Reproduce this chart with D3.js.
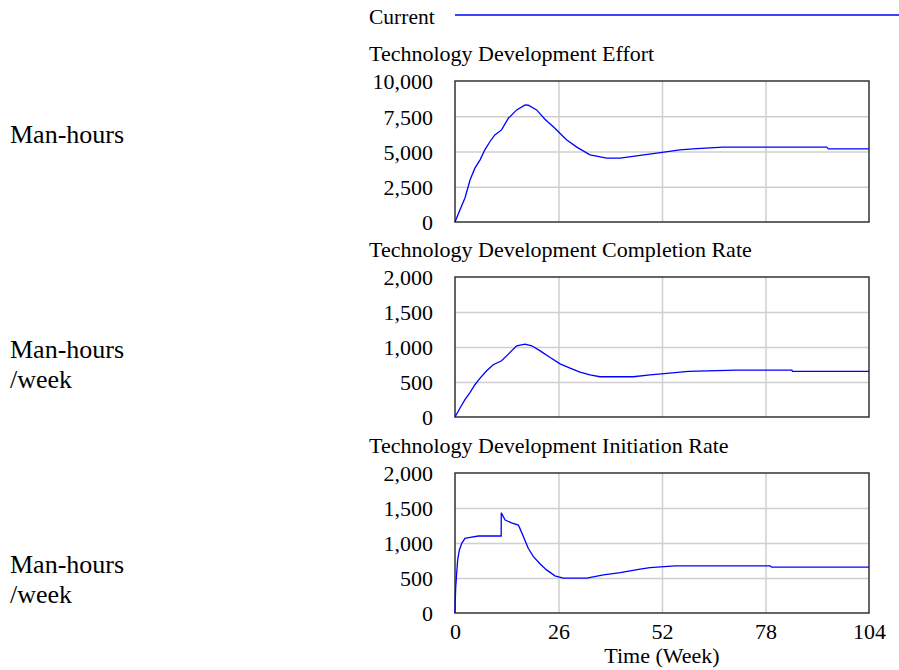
<!DOCTYPE html>
<html>
<head>
<meta charset="utf-8">
<script src="https://cdn.jsdelivr.net/npm/d3@7"></script>
<style>
  html, body { margin: 0; padding: 0; background: #fff; }
  svg { display: block; }
  text { font-family: "Liberation Serif", "Times New Roman", serif; fill: #000; }
</style>
</head>
<body>
<svg id="chart" width="899" height="670"></svg>
<script>
// ---- Data ----
const xTicks = [0, 26, 52, 78, 104];
const xLabel = "Time (Week)";
const seriesName = "Current";

const titles = ["Technology Development Effort", "Technology Development Completion Rate", "Technology Development Initiation Rate"];
const unitLabels = [["Man-hours"], ["Man-hours", "/week"], ["Man-hours", "/week"]];
const yMaxes = [10000, 2000, 2000];
const yTicks1 = [0, 2500, 5000, 7500, 10000];
const yTicks2 = [0, 500, 1000, 1500, 2000];
const yTicks3 = [0, 500, 1000, 1500, 2000];

const effortT = [0, 1.26, 2.5, 3.8, 5, 6.3, 7.5, 8.8, 10, 11.7, 13.4, 15.5, 17.6, 18.4, 20.5, 22.6, 25.1, 28, 30.6, 33.9, 38.1, 41.5, 45.6, 50.7, 56.5, 60.7, 67.4, 93.4, 93.8, 104];
const effortV = [0, 870, 1700, 3000, 3820, 4410, 5120, 5710, 6180, 6530, 7360, 7950, 8300, 8280, 7950, 7290, 6650, 5830, 5310, 4760, 4530, 4530, 4690, 4880, 5120, 5210, 5310, 5310, 5190, 5190];

const compT = [0, 1.26, 2.5, 3.8, 5, 6.3, 7.96, 9.6, 11.7, 13.4, 15.5, 17.6, 19.3, 21.4, 23.9, 26.4, 28.9, 31.4, 33.9, 36.4, 44.8, 49, 53.2, 58.6, 70.8, 84.6, 84.8, 104];
const compV = [0, 128, 247, 352, 461, 556, 660, 746, 803, 898, 1017, 1040, 1017, 945, 850, 760, 698, 641, 603, 575, 575, 603, 622, 651, 670, 670, 651, 651];

const initT = [0, 0.05, 0.17, 0.42, 0.67, 1.1, 1.7, 2.5, 3.8, 5.9, 11.6, 11.62, 12.6, 14.2, 15.9, 16.3, 17.2, 18.4, 19.7, 21.4, 23, 25.1, 27.2, 33.1, 37.3, 41.5, 46.5, 49, 55.3, 79.1, 79.6, 104];
const initV = [0, 150, 355, 569, 758, 900, 995, 1066, 1080, 1100, 1100, 1431, 1327, 1289, 1256, 1209, 1090, 924, 806, 701, 616, 531, 498, 498, 545, 578, 626, 649, 673, 673, 654, 654];

const seriesT = [effortT, compT, initT];
const seriesV = [effortV, compV, initV];
const yTickSets = [yTicks1, yTicks2, yTicks3];

// ---- Layout ----
const plotLeft = 455, plotRight = 869;
const panels = [{top: 81, bottom: 222}, {top: 277, bottom: 417}, {top: 473, bottom: 613}];
const unitBaselines = [[143], [358, 388], [573, 603]];

const svg = d3.select("#chart");
const fmt = d3.format(",");

const x = d3.scaleLinear().domain([0, 104]).range([plotLeft, plotRight]);

// Legend
svg.append("text").attr("x", 369).attr("y", 24).attr("font-size", 21.5).text(seriesName);
svg.append("line").attr("x1", 455).attr("x2", 899).attr("y1", 15).attr("y2", 15)
  .attr("stroke", "#0000ff").attr("stroke-width", 1.5);

panels.forEach((p, i) => {
  const y = d3.scaleLinear().domain([0, yMaxes[i]]).range([p.bottom, p.top]);
  const g = svg.append("g");

  // title
  g.append("text").attr("x", 369).attr("y", p.top - 20).attr("font-size", 22).text(titles[i]);

  // unit labels
  unitLabels[i].forEach((s, k) => {
    g.append("text").attr("x", 10).attr("y", unitBaselines[i][k]).attr("font-size", 26).text(s);
  });

  // grid (horizontal)
  const gy = g.append("g").attr("transform", `translate(${plotLeft},0)`)
    .call(d3.axisLeft(y).tickValues(yTickSets[i].slice(1, -1)).tickSize(-(plotRight - plotLeft)).tickFormat(""));
  gy.select(".domain").remove();
  gy.selectAll("line").attr("stroke", "#cfcfcf").attr("stroke-width", 1.5);

  // grid (vertical)
  const gx = g.append("g").attr("transform", `translate(0,${p.bottom})`)
    .call(d3.axisBottom(x).tickValues(xTicks.slice(1, -1)).tickSize(-(p.bottom - p.top)).tickFormat(""));
  gx.select(".domain").remove();
  gx.selectAll("line").attr("stroke", "#cfcfcf").attr("stroke-width", 1.5);

  // y tick labels
  const ya = g.append("g").attr("transform", `translate(${plotLeft},0)`)
    .call(d3.axisLeft(y).tickValues(yTickSets[i]).tickSize(0).tickPadding(22).tickFormat(fmt));
  ya.select(".domain").remove();
  ya.selectAll("text").attr("font-size", 22).attr("font-family", "Liberation Serif, Times New Roman, serif")
    .attr("dy", "0.36em");

  // frame
  g.append("rect").attr("x", plotLeft).attr("y", p.top)
    .attr("width", plotRight - plotLeft).attr("height", p.bottom - p.top)
    .attr("fill", "none").attr("stroke", "#333").attr("stroke-width", 1.5);

  // series line
  const pts = seriesT[i].map((t, k) => [t, seriesV[i][k]]);
  const line = d3.line().x(d => x(d[0])).y(d => y(d[1]));
  g.append("path").attr("d", line(pts)).attr("fill", "none")
    .attr("stroke", "#0000ff").attr("stroke-width", 1.3);

  // x axis labels only under the last panel
  if (i === panels.length - 1) {
    const xa = g.append("g").attr("transform", `translate(0,${p.bottom})`)
      .call(d3.axisBottom(x).tickValues(xTicks).tickSize(0).tickPadding(10).tickFormat(d3.format("d")));
    xa.select(".domain").remove();
    xa.selectAll("text").attr("font-size", 22).attr("font-family", "Liberation Serif, Times New Roman, serif");
    g.append("text").attr("x", (plotLeft + plotRight) / 2).attr("y", 663)
      .attr("text-anchor", "middle").attr("font-size", 22).text(xLabel);
  }
});
</script>
</body>
</html>
